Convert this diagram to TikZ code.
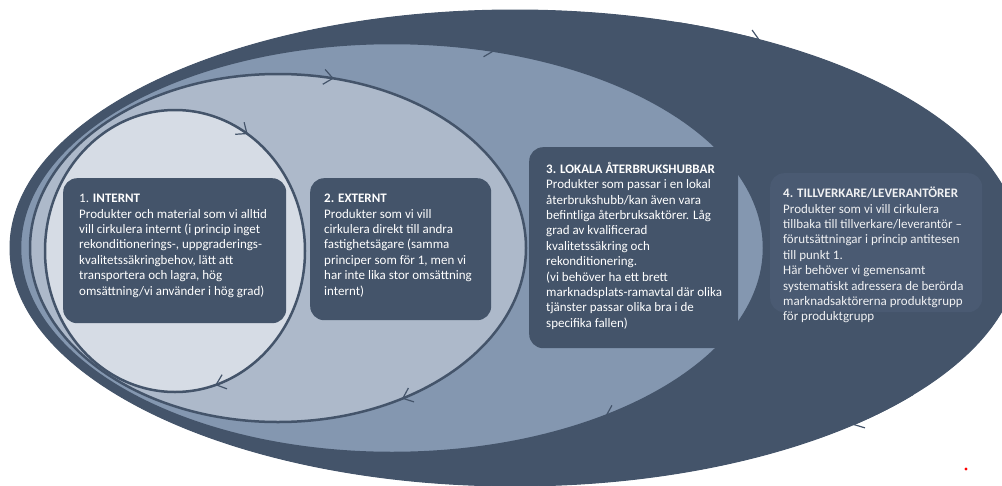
\documentclass[tikz,border=0pt]{standalone}
\usepackage{fontspec}
\setmainfont{Carlito}
\usetikzlibrary{arrows.meta}

\definecolor{slate}{HTML}{44546A}
\definecolor{slatemid}{HTML}{8497B0}
\definecolor{slatelight}{HTML}{ADB9CA}
\definecolor{slatepale}{HTML}{D6DCE5}
\definecolor{slatebox}{HTML}{4A5A72}

\begin{document}
\begin{tikzpicture}[x=1pt,y=-1pt,
  ring/.style={draw=slate,line width=2.5pt},
  flow/.style={draw=slate,line width=1.2pt,-{Straight Barb[length=9pt,width=15pt]}},
  card/.style={rounded corners=14pt,fill=slate,anchor=north west,inner sep=0pt},
  card text/.style={anchor=north west,inner sep=0pt,align=left,text=white,
    font=\fontsize{13}{15.4}\selectfont}]

  \useasboundingbox (0,0) rectangle (1002,485);
  \begin{scope}
    \clip (0,0) rectangle (1002,485);
    \draw[ring,fill=slate,line width=1pt] (515,248) ellipse [x radius=505,y radius=238];
  \end{scope}
  \draw[ring,fill=slatemid] (392,248) ellipse [x radius=372,y radius=205];
  \draw[ring,fill=slatelight] (278,248) ellipse [x radius=248,y radius=174];
  \draw[ring,fill=slatepale] (175,251) ellipse [x radius=130,y radius=141];

  \draw[flow] (515,248) ++(289:505 and 238) arc[start angle=289,end angle=299,x radius=505,y radius=238];
  \draw[flow] (515,248) ++(38:505 and 238) arc[start angle=38,end angle=48,x radius=505,y radius=238];
  \draw[flow] (392,248) ++(276:372 and 205) arc[start angle=276,end angle=286,x radius=372,y radius=205];
  \draw[flow] (392,248) ++(45:372 and 205) arc[start angle=45,end angle=55,x radius=372,y radius=205];
  \draw[flow] (278,248) ++(273:248 and 174) arc[start angle=273,end angle=283,x radius=248,y radius=174];
  \draw[flow] (278,248) ++(50:248 and 174) arc[start angle=50,end angle=60,x radius=248,y radius=174];
  \draw[flow] (175,251) ++(294:130 and 141) arc[start angle=294,end angle=304,x radius=130,y radius=141];
  \draw[flow] (175,251) ++(62:130 and 141) arc[start angle=62,end angle=72,x radius=130,y radius=141];

  \node[card,minimum width=223pt,minimum height=145pt] (internt) at (63,178) {};
  \node[card,minimum width=181pt,minimum height=142pt] (externt) at (310,178) {};
  \node[card,minimum width=209pt,minimum height=201pt] (lokala) at (529,147) {};
  \node[card,fill=slatebox,minimum width=212pt,minimum height=139pt] (tillverkare) at (770,173) {};

  \node[card text] (internt text) at (79,194) {1. \textbf{INTERNT}\\
    Produkter och material som vi alltid\\
    vill cirkulera internt (i princip inget\\
    rekonditionerings-, uppgraderings-\\
    kvalitetssäkringbehov, lätt att\\
    transportera och lagra, hög\\
    omsättning/vi använder i hög grad)};
  \node[card text] (externt text) at (324,194) {\textbf{2. EXTERNT}\\
    Produkter som vi vill\\
    cirkulera direkt till andra\\
    fastighetsägare (samma\\
    principer som för 1, men vi\\
    har inte lika stor omsättning\\
    internt)};
  \node[card text] (lokala text) at (546,162) {\textbf{3. LOKALA ÅTERBRUKSHUBBAR}\\
    Produkter som passar i en lokal\\
    återbrukshubb/kan även vara\\
    befintliga återbruksaktörer. Låg\\
    grad av kvalificerad\\
    kvalitetssäkring och\\
    rekonditionering.\\
    (vi behöver ha ett brett\\
    marknadsplats-ramavtal där olika\\
    tjänster passar olika bra i de\\
    specifika fallen)};
  \node[card text,text=white!92!slate] (tillverkare text) at (783,187) {\textbf{4. TILLVERKARE/LEVERANTÖRER}\\
    Produkter som vi vill cirkulera\\
    tillbaka till tillverkare/leverantör –\\
    förutsättningar i princip antitesen\\
    till punkt 1.\\
    Här behöver vi gemensamt\\
    systematiskt adressera de berörda\\
    marknadsaktörerna produktgrupp\\
    för produktgrupp};

  \fill[red] (966,469) circle[radius=1.6pt];
\end{tikzpicture}
\end{document}
